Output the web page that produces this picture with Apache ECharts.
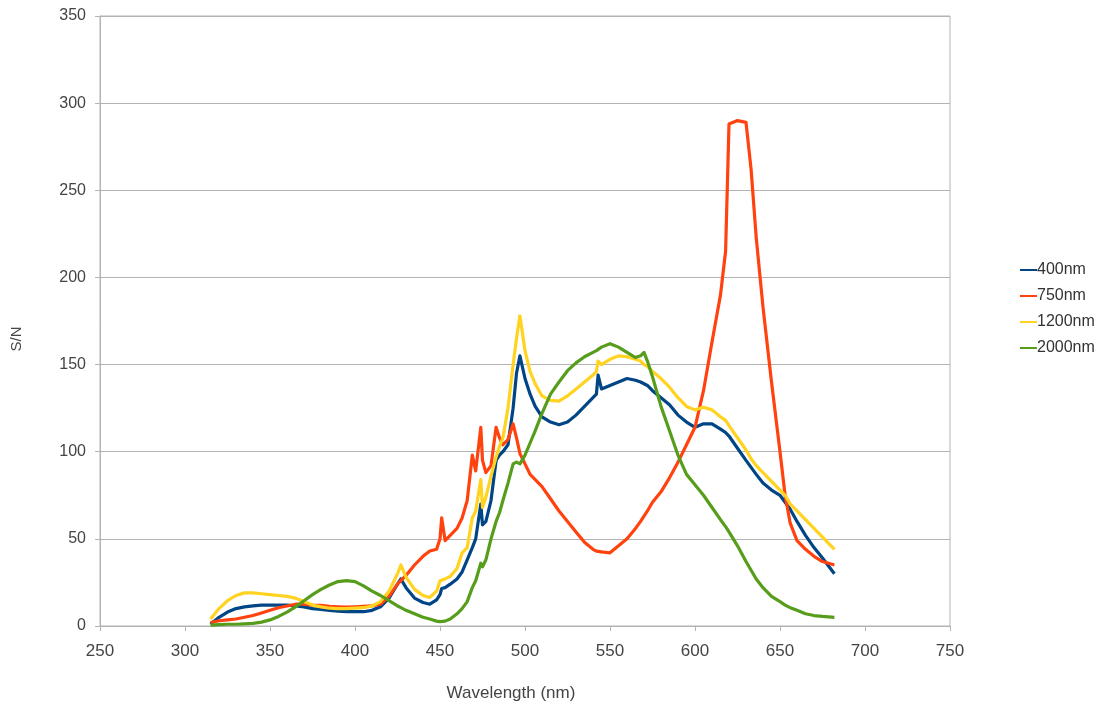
<!DOCTYPE html>
<html>
<head>
<meta charset="utf-8">
<script src="https://cdn.jsdelivr.net/npm/echarts@6/dist/echarts.min.js"></script>
<style>
html,body{margin:0;padding:0;background:#fff;}
#c{width:1110px;height:709px;}
</style>
</head>
<body>
<div id="c"></div>
<script>
var wavelength = [315,320,325,330,335,340,345,350,355,360,365,370,375,380,385,390,395,400,405,410,415,420,425,427,430,435,440,444,448,450,451,453,456,460,463,466,469,471,474,475,477,480,483,485,487,490,493,495,497,500,503,506,510,515,520,525,530,535,540,542,543,545,550,555,560,565,568,570,572,575,580,585,590,595,600,605,610,615,618,620,625,630,633,636,640,645,650,653,656,660,665,670,675,682];

var s400 = [1,5,8,10,11,11.5,12,12,12,12,11.5,11,10,9.5,9,8.5,8.3,8.2,8.2,9,11,16,24,27,22,16,13.5,12.5,15,18,21.5,22,24,27,31,38,45,50,70,58,60,72,95,98,100,104,125,145,155,142,133,126,120,117,115.5,117,121,126,131,133,144,136,138,140,142,141,140,139,138,135,131,127,121,117,114,116,116,113,111,109,102,95,91,87,82,78,75,71,67,60,52,45,39,30];

var s750 = [2,3,3.5,4,5,6,7.5,9,10.5,11.5,12.5,12.5,12,11.8,11.3,11,10.8,11,11.3,11.5,12.5,17,24,26,29,35,40,43,44,50,62,49,52,56,62,72,98,89,114,95,88,92,114,108,104,107,116,108,99,93,87,84,80,73,66,60,54,48,44,43,43,42.5,42,46,50,56,60,63,66,71,77,85,94,104,114,135,163,190,215,288,290,289,262,223,183,140,100,75,59,49,44,40,37,35];

var s1200 = [4,10,14.5,17.5,19,19,18.5,18,17.5,17,16,14,12,11,10.2,10,10,10.2,10.5,11.5,14,20,30,35,28,21,17.5,16.4,20,26,27,27,28.5,33,42,45,62,66,84,68,74,86,97,103,108,125,150,165,178,158,146,139,132,129.5,129,132,136,140,144,146,152,150,153,155,154.5,153,152,150,149,146,142,137,131,126,124,125.5,124,120,118,115,108,101,96,92,88,83,78,75,70,66,61,56,51,44];

var s2000 = [0.5,0.8,1,1,1.2,1.5,2.2,3.5,5.5,8,11,14.5,18,21,23.5,25.5,26,25.5,23,20,17.5,14.5,11.5,10.5,9,7,5,4,2.8,2.5,2.5,2.8,4,7,10,14,22,26,36,34,38,50,60,65,72,82,93,94,93,98,105,112,122,133,140,146.5,151,154.5,157,158,159,160,162,160,157,154,155,157,152,143,126,112,98,87,81,75,68,61,57,54,46,37,32,27,22,17,14,12,10.5,9,7,6,5.5,5];

var seriesNames = ['400nm','750nm','1200nm','2000nm'];
var seriesColors = ['#004586','#ff420e','#ffd320','#579d1c'];
var seriesValues = [s400, s750, s1200, s2000];

function pairs(vals){
  return wavelength.map(function(w,i){ return [w, vals[i]]; });
}

var chart = echarts.init(document.getElementById('c'));
var textColor = '#444444';
var ff = 'Liberation Sans';
chart.setOption({
  animation: false,
  backgroundColor: '#ffffff',
  grid: {left: 100, right: 160, top: 16, bottom: 83, show: true, borderColor: '#b3b3b3', borderWidth: 1, backgroundColor: 'transparent'},
  legend: {
    orient: 'vertical',
    left: 1015,
    top: 257,
    itemWidth: 17,
    itemHeight: 2,
    itemGap: 10,
    icon: 'rect',
    textStyle: {fontFamily: ff, fontSize: 16, color: '#333333', padding: [0,0,0,-5]},
    data: seriesNames
  },
  xAxis: {
    type: 'value',
    min: 250, max: 750, interval: 50,
    name: 'Wavelength (nm)',
    nameLocation: 'middle',
    nameGap: 59,
    nameTextStyle: {fontFamily: ff, fontSize: 17, color: textColor, padding: [0,28,0,0]},
    axisLine: {show: true, lineStyle: {color: '#b3b3b3'}},
    axisTick: {show: true, length: 5, lineStyle: {color: '#b3b3b3'}},
    axisLabel: {fontFamily: ff, fontSize: 17, color: textColor, margin: 17},
    splitLine: {show: false}
  },
  yAxis: {
    type: 'value',
    min: 0, max: 350, interval: 50,
    name: 'S/N',
    nameLocation: 'middle',
    nameGap: 76,
    nameRotate: 90,
    nameTextStyle: {fontFamily: ff, fontSize: 15, color: textColor, padding: [0,36,0,0]},
    axisLine: {show: true, lineStyle: {color: '#b3b3b3'}},
    axisTick: {show: true, length: 5, lineStyle: {color: '#b3b3b3'}},
    axisLabel: {fontFamily: ff, fontSize: 16, color: textColor, margin: 14},
    splitLine: {show: true, lineStyle: {color: '#b3b3b3', width: 1}}
  },
  series: seriesNames.map(function(n,i){
    return {
      name: n,
      type: 'line',
      data: pairs(seriesValues[i]),
      showSymbol: false,
      symbol: 'none',
      color: seriesColors[i],
      lineStyle: {width: 3.2, color: seriesColors[i], join: 'round'},
      itemStyle: {color: seriesColors[i]},
      z: 2 + i
    };
  })
});
</script>
</body>
</html>
